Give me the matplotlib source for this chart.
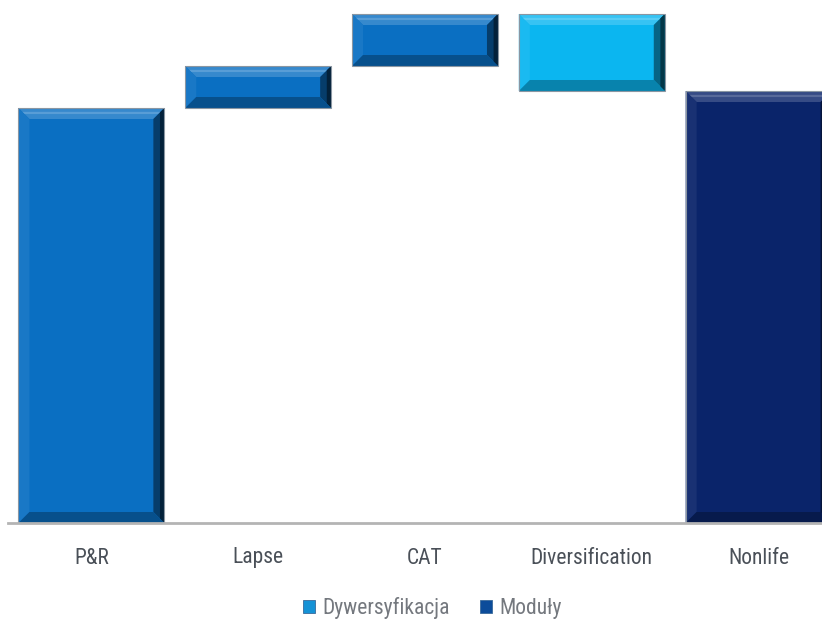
import matplotlib
matplotlib.use("Agg")
import matplotlib.pyplot as plt
from matplotlib.patches import Polygon, Rectangle, Patch
from matplotlib import colors as mcolors
from matplotlib import font_manager

categories = ["P&R", "Lapse", "CAT", "Diversification", "Nonlife"]
changes = [415, 42, 52, -77, 432]          # last entry is the resulting total
is_total = [True, False, False, False, True]
bar_colors = ["#0a6fc2", "#0a6fc2", "#0a6fc2", "#0bb6f0", "#0a246a"]
legend_labels = ["Dywersyfikacja", "Moduły"]
legend_colors = ["#1592d6", "#0c4c9a"]

# pick a narrow sans font if available
avail = {f.name for f in font_manager.fontManager.ttflist}
family = [f for f in ["Roboto Condensed", "Liberation Sans Narrow", "Open Sans Condensed", "Liberation Sans"] if f in avail]
family = family + ["DejaVu Sans"]
plt.rcParams["font.family"] = family

W, H = 822, 623
fig = plt.figure(figsize=(W / 100, H / 100), dpi=100)
ax = fig.add_axes([8 / W, (H - 523) / H, 834 / W, 523 / H])
ax.set_xlim(-0.5, 4.5)
ax.set_ylim(0, 523)
ax.axis("off")

width = 0.875
px_x = 834 / 5.0      # pixels per x data unit
px_y = 1.0            # pixels per y data unit


def shade(c, f):
    r, g, b = mcolors.to_rgb(c)
    if f >= 0:
        return (r + (1 - r) * f, g + (1 - g) * f, b + (1 - b) * f)
    f = -f
    return (r * (1 - f), g * (1 - f), b * (1 - f))


def bevel_bar(x0, y0, w, h, color, bevel=11):
    dx = bevel / px_x
    dy = bevel / px_y
    dy = min(dy, h / 2.5)
    dx = min(dx, w / 3)
    x1, y1 = x0 + w, y0 + h
    ax.add_patch(Rectangle((x0, y0), w, h, facecolor=color, edgecolor="none", zorder=2))
    # top bevel (light)
    ax.add_patch(Polygon([(x0, y1), (x1, y1), (x1 - dx, y1 - dy), (x0 + dx, y1 - dy)],
                         closed=True, facecolor=shade(color, 0.18), edgecolor="none", zorder=3))
    # thin highlight under the top edge
    ax.add_patch(Polygon([(x0 + dx * 0.35, y1 - dy * 0.35), (x1 - dx * 0.35, y1 - dy * 0.35),
                          (x1 - dx * 0.55, y1 - dy * 0.55), (x0 + dx * 0.55, y1 - dy * 0.55)],
                         closed=True, facecolor=shade(color, 0.32), edgecolor="none", zorder=3))
    # left bevel
    ax.add_patch(Polygon([(x0, y0), (x0, y1), (x0 + dx, y1 - dy), (x0 + dx, y0 + dy)],
                         closed=True, facecolor=shade(color, 0.06), edgecolor="none", zorder=3))
    # right bevel (dark)
    ax.add_patch(Polygon([(x1, y0), (x1, y1), (x1 - dx, y1 - dy), (x1 - dx, y0 + dy)],
                         closed=True, facecolor=shade(color, -0.45), edgecolor="none", zorder=3))
    ax.add_patch(Polygon([(x1, y0), (x1, y1), (x1 - dx * 0.4, y1 - dy * 0.4), (x1 - dx * 0.4, y0 + dy * 0.4)],
                         closed=True, facecolor=shade(color, -0.7), edgecolor="none", zorder=3))
    # bottom bevel (dark)
    ax.add_patch(Polygon([(x0, y0), (x1, y0), (x1 - dx, y0 + dy), (x0 + dx, y0 + dy)],
                         closed=True, facecolor=shade(color, -0.28), edgecolor="none", zorder=3))
    ax.add_patch(Rectangle((x0, y0), w, h, facecolor="none", edgecolor="#8a96a2",
                           linewidth=0.8, zorder=4))


running = 0
for i, (cat, v, tot, c) in enumerate(zip(categories, changes, is_total, bar_colors)):
    if tot:
        bottom, height = 0, v
        running = v
    else:
        if v >= 0:
            bottom, height = running, v
        else:
            bottom, height = running + v, -v
        running += v
    bevel_bar(i - width / 2, bottom, width, height, c)

ax.plot([-0.5, 4.5], [0, 0], color="#b4b4b4", linewidth=2, zorder=5, clip_on=False)

for i, cat in enumerate(categories):
    ax.text(i, -35, cat, ha="center", va="center", fontsize=15.5, color="#4a5058")

handles = [Patch(facecolor=c, edgecolor="#3a6a9a", linewidth=0.6) for c in legend_colors]
fig.legend(handles, legend_labels, loc="center", bbox_to_anchor=(432 / W, 1 - 608 / H),
           ncol=2, frameon=False, fontsize=15.5, handlelength=0.6, handleheight=0.6,
           handletextpad=0.3, columnspacing=1.4, labelcolor="#74787e")

fig.savefig("out.png", dpi=100)
